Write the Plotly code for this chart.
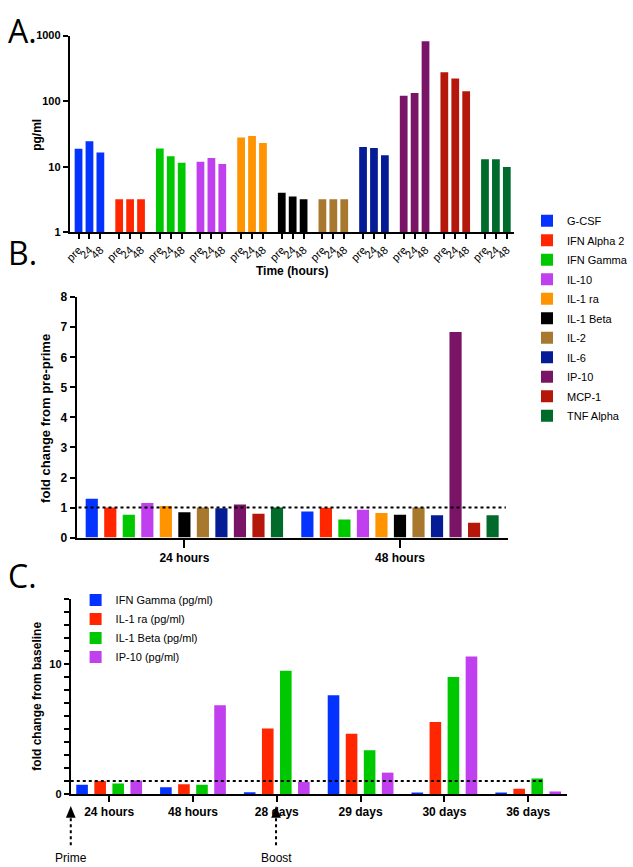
import plotly.graph_objects as go

W, H = 633, 867
FONT = "Liberation Sans, Arial, sans-serif"

# ---------------- data ----------------
cytokines = ["G-CSF", "IFN Alpha 2", "IFN Gamma", "IL-10", "IL-1 ra", "IL-1 Beta",
             "IL-2", "IL-6", "IP-10", "MCP-1", "TNF Alpha"]
colors = ["#0433FF", "#FF2600", "#00C800", "#C03FEE", "#FF9300", "#000000",
          "#A8782E", "#061C96", "#7A1466", "#B5180A", "#006B2A"]
timepoints_A = ["pre", "24", "48"]
# Panel A: pg/ml at pre, 24 h, 48 h
pg_pre = [18.8, 3.2, 19.0, 11.9, 27.8, 4.0, 3.2, 20.0, 121, 275, 13.0]
pg_24 = [24.5, 3.2, 14.4, 13.6, 29.5, 3.5, 3.2, 19.3, 133, 221, 13.0]
pg_48 = [16.4, 3.2, 11.5, 11.0, 22.9, 3.2, 3.2, 14.9, 819, 141, 9.9]

# Panel B: fold change from pre-prime
timepoints_B = ["24 hours", "48 hours"]
fold_24 = [1.29, 1.00, 0.76, 1.15, 1.05, 0.84, 1.00, 0.98, 1.10, 0.79, 1.00]
fold_48 = [0.87, 0.99, 0.60, 0.93, 0.82, 0.76, 1.00, 0.74, 6.84, 0.49, 0.74]

# Panel C: fold change from baseline
timepoints_C = ["24 hours", "48 hours", "28 days", "29 days", "30 days", "36 days"]
series_C = ["IFN Gamma (pg/ml)", "IL-1 ra (pg/ml)", "IL-1 Beta (pg/ml)", "IP-10 (pg/ml)"]
colors_C = ["#0433FF", "#FF2600", "#00C800", "#C03FEE"]
ifng_C = [0.71, 0.53, 0.15, 7.59, 0.12, 0.12]
il1ra_C = [1.01, 0.76, 5.04, 4.63, 5.54, 0.41]
il1b_C = [0.81, 0.71, 9.49, 3.37, 9.01, 1.19]
ip10_C = [1.04, 6.83, 0.94, 1.65, 10.58, 0.20]
values_C = [ifng_C, il1ra_C, il1b_C, ip10_C]


def px_x(p):
    return p / W


def px_y(p):
    return 1 - p / H


fig = go.Figure()

# ---------------- Panel A ----------------
GROUP_STEP = 3.723
BAR_W_A = 0.71
tickvals_A, ticktext_A = [], []
for g, (name, col) in enumerate(zip(cytokines, colors)):
    xs = [g * GROUP_STEP + i for i in range(3)]
    tickvals_A += xs
    ticktext_A += timepoints_A
    fig.add_trace(go.Bar(
        x=xs, y=[pg_pre[g], pg_24[g], pg_48[g]], name=name,
        marker=dict(color=col, line=dict(width=0)),
        width=BAR_W_A, offset=-BAR_W_A / 2,
        xaxis="x", yaxis="y", legend="legend", legendgroup=name,
        hovertemplate=name + " %{y} pg/ml<extra></extra>",
    ))

# ---------------- Panel B ----------------
SLOT_B = 19.33 / 225
W_B = 12.7 / 225
for k, (name, col) in enumerate(zip(cytokines, colors)):
    fig.add_trace(go.Bar(
        x=timepoints_B, y=[fold_24[k], fold_48[k]], name=name,
        marker=dict(color=col, line=dict(width=0)),
        width=W_B, offset=(k - 5) * SLOT_B - W_B / 2,
        xaxis="x2", yaxis="y2", showlegend=False, legendgroup=name,
        hovertemplate=name + " %{y}<extra></extra>",
    ))

# ---------------- Panel C ----------------
SLOT_C = 18.67 / 86.67
W_C = 12.0 / 86.67
for k, (name, col, vals) in enumerate(zip(series_C, colors_C, values_C)):
    fig.add_trace(go.Bar(
        x=timepoints_C, y=vals, name=name,
        marker=dict(color=col, line=dict(width=0)),
        width=W_C, offset=(k - 1.5) * SLOT_C - W_C / 2,
        xaxis="x3", yaxis="y3", legend="legend2", legendgroup="C" + name,
        hovertemplate=name + " %{y}<extra></extra>",
    ))

axis_common = dict(showline=True, linecolor="black", linewidth=2, ticks="outside",
                   tickcolor="black", tickwidth=2, showgrid=False, zeroline=False,
                   fixedrange=True)
tick_font_bold = dict(family=FONT, size=12, color="black", weight="bold")

fig.update_layout(
    width=W, height=H, margin=dict(l=0, r=0, t=0, b=0),
    paper_bgcolor="white", plot_bgcolor="white",
    barmode="group", showlegend=True,
    font=dict(family=FONT, color="black"),
    xaxis=dict(domain=[px_x(66), px_x(525)], anchor="y",
               range=[-0.8, 10 * GROUP_STEP + 2 + 0.62],
               tickmode="array", tickvals=tickvals_A, ticktext=ticktext_A,
               tickangle=-45, ticklen=5,
               tickfont=dict(family=FONT, size=11, color="black"),
               **axis_common),
    yaxis=dict(domain=[px_y(229), px_y(29)], anchor="x", type="log", range=[0, 3],
               tickmode="array", tickvals=[1, 10, 100, 1000],
               ticktext=["1", "10", "100", "1000"], ticklen=5,
               tickfont=dict(family=FONT, size=11, color="black", weight="bold"),
               **axis_common),
    xaxis2=dict(domain=[px_x(73), px_x(519)], anchor="y2", type="category",
                range=[-0.5, 1.5], ticklen=8, tickfont=tick_font_bold,
                **axis_common),
    yaxis2=dict(domain=[px_y(539.3), px_y(295)], anchor="x2", range=[0, 8],
                tickmode="array", tickvals=list(range(9)), ticklen=5,
                tickfont=tick_font_bold, **axis_common),
    xaxis3=dict(domain=[px_x(67), px_x(580)], anchor="y3", type="category",
                range=[-0.458, 5.46], ticklen=6, tickfont=tick_font_bold,
                **axis_common),
    yaxis3=dict(domain=[px_y(800), px_y(601.7)], anchor="x3", range=[0, 15],
                tickmode="array", tickvals=list(range(16)),
                ticktext=["0"] + [""] * 9 + ["10"] + [""] * 5, ticklen=5,
                tickfont=dict(family=FONT, size=11, color="black", weight="bold"),
                **axis_common),
    legend=dict(x=px_x(539), y=px_y(202.5), xanchor="left", yanchor="top",
                font=dict(family=FONT, size=11, color="black"),
                bgcolor="rgba(0,0,0,0)", tracegroupgap=0.5, itemclick=False),
    legend2=dict(x=px_x(72), y=px_y(588), xanchor="left", yanchor="top",
                 font=dict(family=FONT, size=11, color="black"),
                 bgcolor="rgba(0,0,0,0)", tracegroupgap=0, itemclick=False),
)

# dotted reference lines at fold change = 1
fig.add_shape(type="line", xref="paper", yref="y2", x0=px_x(75), x1=px_x(517),
              y0=1, y1=1, line=dict(color="black", width=2, dash="dot"))
fig.add_shape(type="line", xref="paper", yref="y3", x0=px_x(67), x1=px_x(557),
              y0=1, y1=1, line=dict(color="black", width=2, dash="dot"))

# Prime / Boost dotted arrows
for xp, label in [(67, "Prime"), (279.3, "Boost")]:
    fig.add_shape(type="line", xref="paper", yref="paper",
                  x0=px_x(xp), x1=px_x(xp), y0=px_y(852), y1=px_y(823),
                  line=dict(color="black", width=2, dash="dot"))
    fig.add_shape(type="path", xref="paper", yref="paper",
                  path=f"M {px_x(xp - 5)} {px_y(824)} L {px_x(xp + 5)} {px_y(824)} L {px_x(xp)} {px_y(812)} Z",
                  fillcolor="black", line=dict(color="black", width=0))
    fig.add_annotation(text=label, x=px_x(xp), y=px_y(865), xref="paper", yref="paper",
                       showarrow=False, xanchor="center", yanchor="middle",
                       font=dict(family=FONT, size=12, color="black"))

# panel letters
for letter, ytop in [("A.", 0), ("B.", 226), ("C.", 554)]:
    fig.add_annotation(text=letter, x=0, y=px_y(ytop), xref="paper", yref="paper",
                       showarrow=False, xanchor="left", yanchor="top",
                       font=dict(family="Open Sans, sans-serif", size=32, color="black"))

# axis titles
fig.add_annotation(text="pg/ml", x=px_x(32), y=px_y(130), xref="paper", yref="paper",
                   showarrow=False, textangle=-90, xanchor="center", yanchor="middle",
                   font=dict(family=FONT, size=12, color="black", weight="bold"))
fig.add_annotation(text="Time (hours)", x=px_x(296), y=px_y(268), xref="paper", yref="paper",
                   showarrow=False, xanchor="center", yanchor="middle",
                   font=dict(family=FONT, size=12, color="black", weight="bold"))
fig.add_annotation(text="fold change from pre-prime", x=px_x(41), y=px_y(418),
                   xref="paper", yref="paper", showarrow=False, textangle=-90,
                   xanchor="center", yanchor="middle",
                   font=dict(family=FONT, size=13, color="black", weight="bold"))
fig.add_annotation(text="fold change from baseline", x=px_x(32), y=px_y(700),
                   xref="paper", yref="paper", showarrow=False, textangle=-90,
                   xanchor="center", yanchor="middle",
                   font=dict(family=FONT, size=12, color="black", weight="bold"))

fig.write_html("out.html", post_script="document.body.style.margin='0';",
               config={"displayModeBar": False})
